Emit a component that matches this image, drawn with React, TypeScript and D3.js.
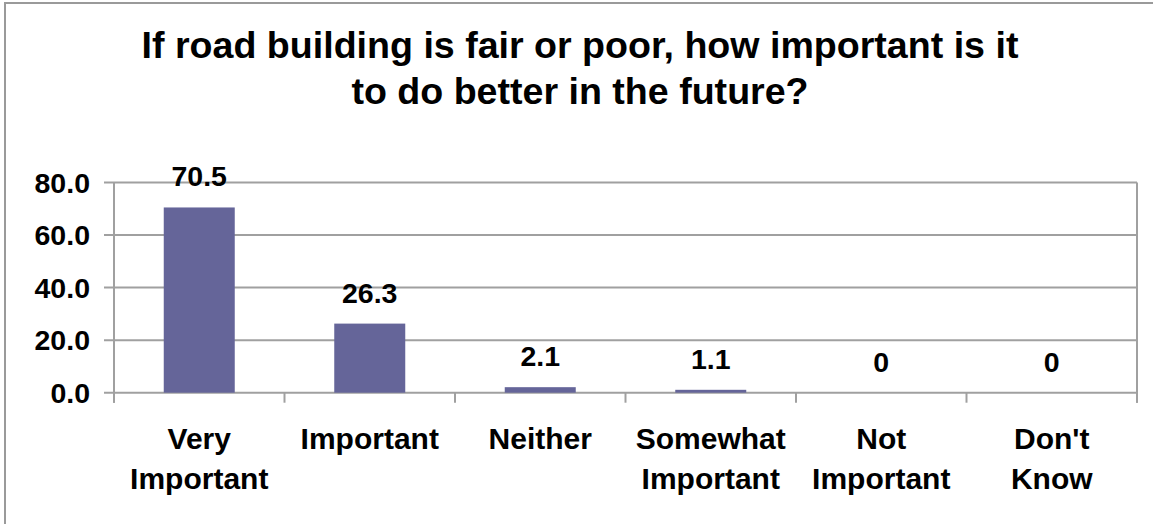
import React from "react";
import * as d3 from "d3";

const categories: string[][] = [
  ["Very", "Important"],
  ["Important"],
  ["Neither"],
  ["Somewhat", "Important"],
  ["Not", "Important"],
  ["Don't", "Know"],
];
const values: number[] = [70.5, 26.3, 2.1, 1.1, 0, 0];
const valueLabels: string[] = ["70.5", "26.3", "2.1", "1.1", "0", "0"];
const yTicks: number[] = [0, 20, 40, 60, 80];
const titleLines: string[] = [
  "If road building is fair or poor, how important is it",
  "to do better in the future?",
];

const W = 1153;
const H = 524;
const left = 114;
const right = 1137;
const top = 182.5;
const bottom = 392.7;
const FONT = "'Liberation Sans', Arial, Helvetica, sans-serif";
const GRID = "#a0a0a0";

export default function App() {
  const keys = categories.map((_, i) => String(i));
  const x = d3
    .scaleBand<string>()
    .domain(keys)
    .range([left, right])
    .paddingInner(0.5836)
    .paddingOuter(0.5836 / 2);
  const y = d3.scaleLinear().domain([0, 80]).range([bottom, top]);
  const step = x.step();
  const boundaries = d3.range(categories.length + 1).map((i) => left + i * step);

  return (
    <svg
      width={W}
      height={H}
      style={{ position: "absolute", left: 0, top: 0, background: "#fff" }}
      fontFamily={FONT}
    >
      <rect x={0} y={0} width={W} height={H} fill="#fff" />
      {/* chart outer border (left & top visible) */}
      <line x1={5} x2={5} y1={3} y2={H} stroke="#9a9a9a" strokeWidth={2} />
      <line x1={4} x2={W} y1={3} y2={3} stroke="#9a9a9a" strokeWidth={2} />

      {/* title */}
      {titleLines.map((t, i) => (
        <text
          key={i}
          x={580}
          y={58 + i * 46}
          textAnchor="middle"
          fontSize={37.6}
          fontWeight="bold"
          fill="#000"
        >
          {t}
        </text>
      ))}

      {/* gridlines */}
      {yTicks.map((t) => (
        <line
          key={t}
          x1={left - 10}
          x2={right}
          y1={y(t)}
          y2={y(t)}
          stroke={GRID}
          strokeWidth={2}
        />
      ))}
      {/* y axis line & right border */}
      <line x1={left} x2={left} y1={top} y2={bottom + 10} stroke={GRID} strokeWidth={2} />
      <line x1={right} x2={right} y1={top} y2={bottom + 10} stroke={GRID} strokeWidth={2} />
      {/* x ticks */}
      {boundaries.map((b, i) => (
        <line key={i} x1={b} x2={b} y1={bottom} y2={bottom + 10} stroke={GRID} strokeWidth={2} />
      ))}

      {/* y tick labels */}
      {yTicks.map((t) => (
        <text
          key={t}
          x={90}
          y={y(t)}
          dy="0.36em"
          textAnchor="end"
          fontSize={28.5}
          fontWeight="bold"
          fill="#000"
        >
          {t.toFixed(1)}
        </text>
      ))}

      {/* bars */}
      {values.map((v, i) => (
        <rect
          key={i}
          x={x(String(i))}
          y={y(v)}
          width={x.bandwidth()}
          height={bottom - y(v)}
          fill="#656599"
        />
      ))}

      {/* data labels */}
      {values.map((v, i) => (
        <text
          key={i}
          x={(x(String(i)) as number) + x.bandwidth() / 2}
          y={y(v) - 21}
          textAnchor="middle"
          fontSize={28.5}
          fontWeight="bold"
          fill="#000"
        >
          {valueLabels[i]}
        </text>
      ))}

      {/* category labels */}
      {categories.map((lines, i) => (
        <text
          key={i}
          x={(x(String(i)) as number) + x.bandwidth() / 2}
          textAnchor="middle"
          fontSize={30}
          fontWeight="bold"
          fill="#000"
        >
          {lines.map((l, j) => (
            <tspan key={j} x={(x(String(i)) as number) + x.bandwidth() / 2} y={449 + j * 40}>
              {l}
            </tspan>
          ))}
        </text>
      ))}
    </svg>
  );
}
